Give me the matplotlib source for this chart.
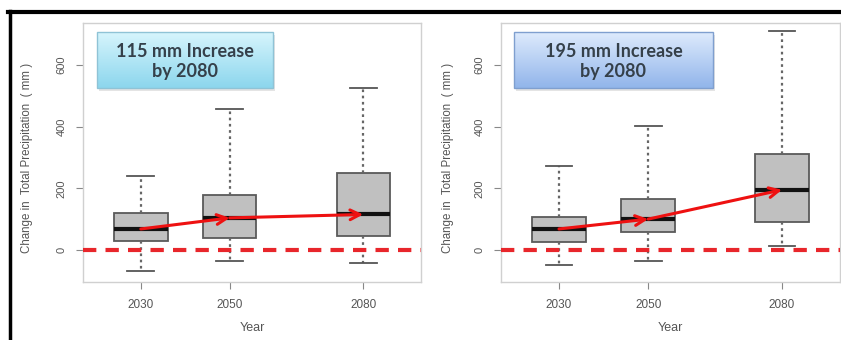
import numpy as np
import matplotlib
matplotlib.use('Agg')
import matplotlib.pyplot as plt
from matplotlib.patches import Rectangle
from matplotlib.lines import Line2D

years = [2030, 2050, 2080]

# scenario 1 (left panel)
low_1 = [-68, -36, -43]
q1_1 = [30, 38, 46]
med_1 = [68, 104, 115]
q3_1 = [120, 178, 250]
high_1 = [240, 458, 526]
note_1 = '115 mm Increase\nby 2080'

# scenario 2 (right panel)
low_2 = [-49, -36, 14]
q1_2 = [25, 57, 89]
med_2 = [68, 100, 195]
q3_2 = [108, 165, 311]
high_2 = [273, 403, 711]
note_2 = '195 mm Increase\nby 2080'

yticks = [0, 200, 400, 600]

plt.rcParams['font.family'] = ['Liberation Sans', 'DejaVu Sans']

W, H = 841, 340
fig = plt.figure(figsize=(W / 100, H / 100), dpi=100)


def draw_panel(ax, low, q1, med, q3, high, note, top_col, bot_col, edge_col, box_x):
    stats = []
    for i in range(len(years)):
        stats.append({'whislo': low[i], 'q1': q1[i], 'med': med[i],
                      'q3': q3[i], 'whishi': high[i], 'fliers': []})
    ax.bxp(stats, positions=years, widths=12, capwidths=6, patch_artist=True,
           boxprops=dict(facecolor='#c0c0c0', edgecolor='#5a5a5a', linewidth=1.3),
           medianprops=dict(color='#111111', linewidth=3),
           whiskerprops=dict(color='#666666', linestyle=(0, (1.2, 1.6)), linewidth=1.6),
           capprops=dict(color='#555555', linewidth=1.3),
           showfliers=False, manage_ticks=False, zorder=2)

    # zero-change reference line
    ax.axhline(0, color='#e8262b', linewidth=3, linestyle=(0, (3.2, 2.2)), zorder=3)

    # arrows joining the medians
    for i in range(len(years) - 1):
        ax.annotate('', xy=(years[i + 1], med[i + 1]), xytext=(years[i], med[i]),
                    arrowprops=dict(arrowstyle='->,head_length=0.7,head_width=0.35',
                                    color='#ee1111', lw=2.2, shrinkA=0, shrinkB=0),
                    zorder=4)

    ax.set_xticks(years)
    ax.set_xticklabels([str(y) for y in years])
    ax.set_yticks(yticks)
    ax.set_yticklabels([str(v) for v in yticks], rotation=90, va='center')
    ax.tick_params(axis='both', colors='#888888', labelcolor='#555555',
                   length=5, width=0.8)
    ax.tick_params(axis='y', pad=7, labelsize=8)
    ax.tick_params(axis='x', pad=7, labelsize=8.5)
    for s in ax.spines.values():
        s.set_color('#d0d0d0')
        s.set_linewidth(1.0)
    ax.set_xlabel('Year', fontsize=9, color='#555555', labelpad=8)
    ax.set_ylabel('Change in  Total Precipitation  ( mm )', fontsize=8.3,
                  color='#555555')

    # gradient callout box
    x0, x1 = box_x
    y0, y1 = 0.749, 0.965
    ax.add_patch(Rectangle((x0 + 0.006, y0 - 0.012), x1 - x0, y1 - y0,
                           transform=ax.transAxes, facecolor='#e4e4e4',
                           edgecolor='none', zorder=5))
    t = np.linspace(0, 1, 64)[:, None]
    grad = (1 - t) * np.array(top_col)[None, :] + t * np.array(bot_col)[None, :]
    ax.imshow(grad[:, None, :], extent=(x0, x1, y0, y1), transform=ax.transAxes,
              aspect='auto', interpolation='bilinear', zorder=6)
    ax.add_patch(Rectangle((x0, y0), x1 - x0, y1 - y0, transform=ax.transAxes,
                           facecolor='none', edgecolor=edge_col, linewidth=1.0,
                           zorder=7))
    ax.text((x0 + x1) / 2, (y0 + y1) / 2 - 0.005, note, transform=ax.transAxes,
            ha='center', va='center', fontsize=13, family=['Lato', 'DejaVu Sans'],
            fontweight='bold', color='#35404a', linespacing=1.25, zorder=8)
    ax.set_xlim(2017, 2093)
    ax.set_ylim(-104, 736)


ax1 = fig.add_axes([83 / W, 1 - 282 / H, 338 / W, 259 / H])
draw_panel(ax1, low_1, q1_1, med_1, q3_1, high_1, note_1,
           (0.84, 0.96, 0.99), (0.55, 0.84, 0.93), '#8fc3d6', (0.041, 0.562))
ax1.yaxis.set_label_coords(-0.148, 0.48)

ax2 = fig.add_axes([501 / W, 1 - 282 / H, 339 / W, 259 / H])
draw_panel(ax2, low_2, q1_2, med_2, q3_2, high_2, note_2,
           (0.87, 0.92, 0.99), (0.57, 0.71, 0.92), '#7f9fcf', (0.038, 0.625))
ax2.yaxis.set_label_coords(-0.138, 0.48)

# black frame lines along the top and left edge
fig.add_artist(Line2D([8 / W, 1], [1 - 12 / H, 1 - 12 / H], color='black',
                      linewidth=3, transform=fig.transFigure))
fig.add_artist(Line2D([9.5 / W, 9.5 / W], [0, 1 - 10.5 / H], color='black',
                      linewidth=2.5, transform=fig.transFigure))

fig.savefig('out.png', dpi=100)
